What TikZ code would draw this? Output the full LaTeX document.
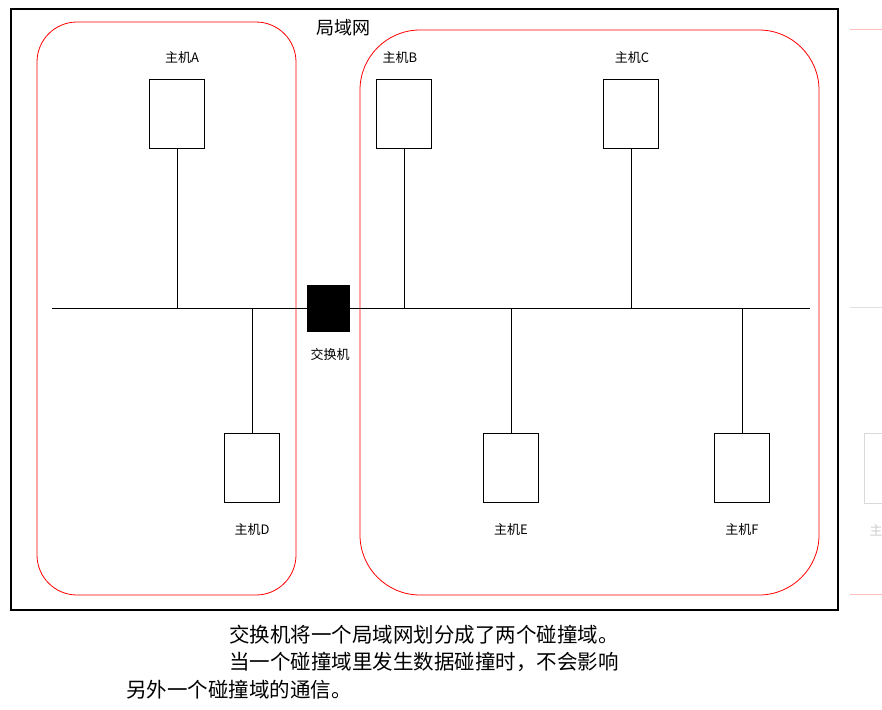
\documentclass[tikz,border=0pt]{standalone}
\usepackage{fontspec}
\newfontfamily\cjk{Noto Sans CJK SC}
\begin{document}
\begin{tikzpicture}[x=1pt,y=-1pt,
  host/.style={draw,line width=0.8pt,minimum width=55pt,minimum height=69pt,inner sep=0pt},
  lbl/.style={font=\cjk\fontsize{13}{14}\selectfont},
  captxt/.style={font=\cjk\fontsize{20.5}{22}\selectfont,anchor=west,inner sep=0pt},
  dom/.style={draw=red,line width=0.8pt}]
\useasboundingbox (0,0) rectangle (882,709);
\draw[line width=2pt] (11,9) rectangle (838,610);
\draw[dom,rounded corners=40pt] (37,22) rectangle (296,595);
\draw[dom,rounded corners=60pt] (360,30) rectangle (819,595);
\node[lbl,font=\cjk\fontsize{18}{19}\selectfont] (title) at (343,28) {局域网};
\coordinate (bl) at (52,308); \coordinate (br) at (810,308);
\draw[line width=0.8pt] (bl) -- (br);
\node[fill=black,minimum width=43pt,minimum height=47pt,inner sep=0pt] (sw) at (328.5,308.5) {};
\node[lbl] (swl) at (330,355) {交换机};
\foreach \n/\x/\lx/\t in {A/177/182/主机A,B/404/400/主机B,C/631/632/主机C}{
  \node[host] (\n) at (\x,113.5) {};
  \node[lbl] at (\lx,58) {\t};
  \coordinate (b\n) at (\x,308);
  \draw[line width=0.8pt] (\n.south) -- (b\n);
}
\foreach \n/\x/\t in {D/252/主机D,E/511/主机E,F/742/主机F}{
  \node[host] (\n) at (\x,468) {};
  \node[lbl] at (\x,530) {\t};
  \coordinate (b\n) at (\x,308);
  \draw[line width=0.8pt] (b\n) -- (\n.north);
}
\node[captxt] (c1) at (229,635) {交换机将一个局域网划分成了两个碰撞域。};
\node[captxt] (c2) at (229,662) {当一个碰撞域里发生数据碰撞时，不会影响};
\node[captxt] (c3) at (126,690) {另外一个碰撞域的通信。};
\draw[red!25] (850,29) -- (882,29);
\draw[gray!25] (850,307) -- (882,307);
\draw[red!25] (850,594) -- (882,594);
\draw[gray!30] (882,433) -- (864,433) -- (864,503) -- (882,503);
\node[lbl,text=gray!40,anchor=west] (fr) at (866,530) {主};
\end{tikzpicture}
\end{document}
